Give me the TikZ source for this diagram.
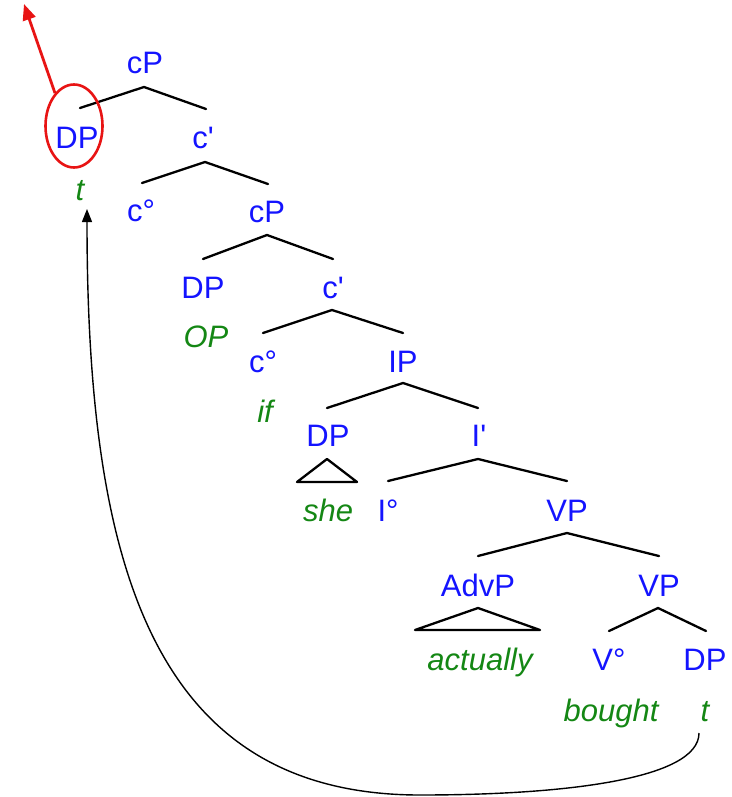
\documentclass[tikz,border=0pt]{standalone}
\usepackage{fontspec}
\newfontfamily\lab{Liberation Sans}
\usetikzlibrary{shapes.geometric,arrows.meta}
\definecolor{catblue}{RGB}{20,20,255}
\definecolor{wordgreen}{RGB}{20,135,20}
\definecolor{markred}{RGB}{232,20,20}
\begin{document}
\begin{tikzpicture}[x=1pt,y=-1pt,
  cat/.style={text=catblue,font=\lab\fontsize{31}{37}\selectfont,inner sep=0pt,anchor=base},
  word/.style={text=wordgreen,font=\lab\itshape\fontsize{31}{37}\selectfont,inner sep=0pt,anchor=base},
  branch/.style={line width=2.3pt,line join=round,line cap=round}]
\useasboundingbox (0,0) rectangle (731,797);
% labels
\node[cat] (cPa) at (145,74) {cP};
\node[cat] (DPa) at (77,148) {DP};
\node[cat] (cbara) at (203,148) {c'};
\node[word] (ta) at (80,200) {t};
\node[cat] (c0a) at (141,221) {c°};
\node[cat] (cPb) at (267,222) {cP};
\node[cat] (DPb) at (203,298) {DP};
\node[cat] (cbarb) at (333,298) {c'};
\node[word] (OP) at (206,347) {OP};
\node[cat] (c0b) at (263,372) {c°};
\node[cat] (IP) at (403,372) {IP};
\node[word] (ifw) at (265,422) {if};
\node[cat] (DPc) at (328,446) {DP};
\node[cat] (Ibar) at (479,446) {I'};
\node[word] (she) at (328,521) {she};
\node[cat] (I0) at (388,521) {I°};
\node[cat] (VPa) at (567,521) {VP};
\node[cat] (AdvP) at (478,596) {AdvP};
\node[cat] (VPb) at (659,596) {VP};
\node[word] (actually) at (480,670) {actually};
\node[cat] (V0) at (609,670) {V°};
\node[cat] (DPd) at (705,670) {DP};
\node[word] (bought) at (611,721) {bought};
\node[word] (tb) at (705,721) {t};
% branches
\draw[branch] (80,108) -- (144,87) -- (206,109);
\draw[branch] (142,183) -- (205,162) -- (268,184);
\draw[branch] (203,259) -- (267,235) -- (333,259);
\draw[branch] (263,333) -- (332,310) -- (403,333);
\draw[branch] (327,408) -- (403,383) -- (478,408);
\draw[branch] (388,481) -- (478,459) -- (567,481);
\draw[branch] (478,556) -- (567,533) -- (659,556);
\draw[branch] (609,631) -- (658,608) -- (706,631);
% triangles
\draw[branch] (297,482) -- (327,459) -- (357,482) -- cycle;
\draw[branch] (415,630) -- (478,608) -- (540,630) -- cycle;
% movement arrow
\coordinate (mvS) at (699,733);
\coordinate (mvB) at (420,795);
\coordinate (mvE) at (87,209);
\draw[line width=1.4pt,-{Triangle[length=13pt,width=10pt]}] (mvS) .. controls (699,780) and (560,795) .. (mvB) .. controls (150,795) and (87,560) .. (mvE);
% red circle and arrow
\node[draw=markred,line width=2.6pt,ellipse,minimum width=57pt,minimum height=83pt,inner sep=0pt] (circ) at (74,126) {};
\coordinate (redtip) at (24,4);
\draw[markred,line width=2.8pt,-{Triangle[length=16pt,width=13pt]}] (circ.120) -- (redtip);
\end{tikzpicture}
\end{document}
